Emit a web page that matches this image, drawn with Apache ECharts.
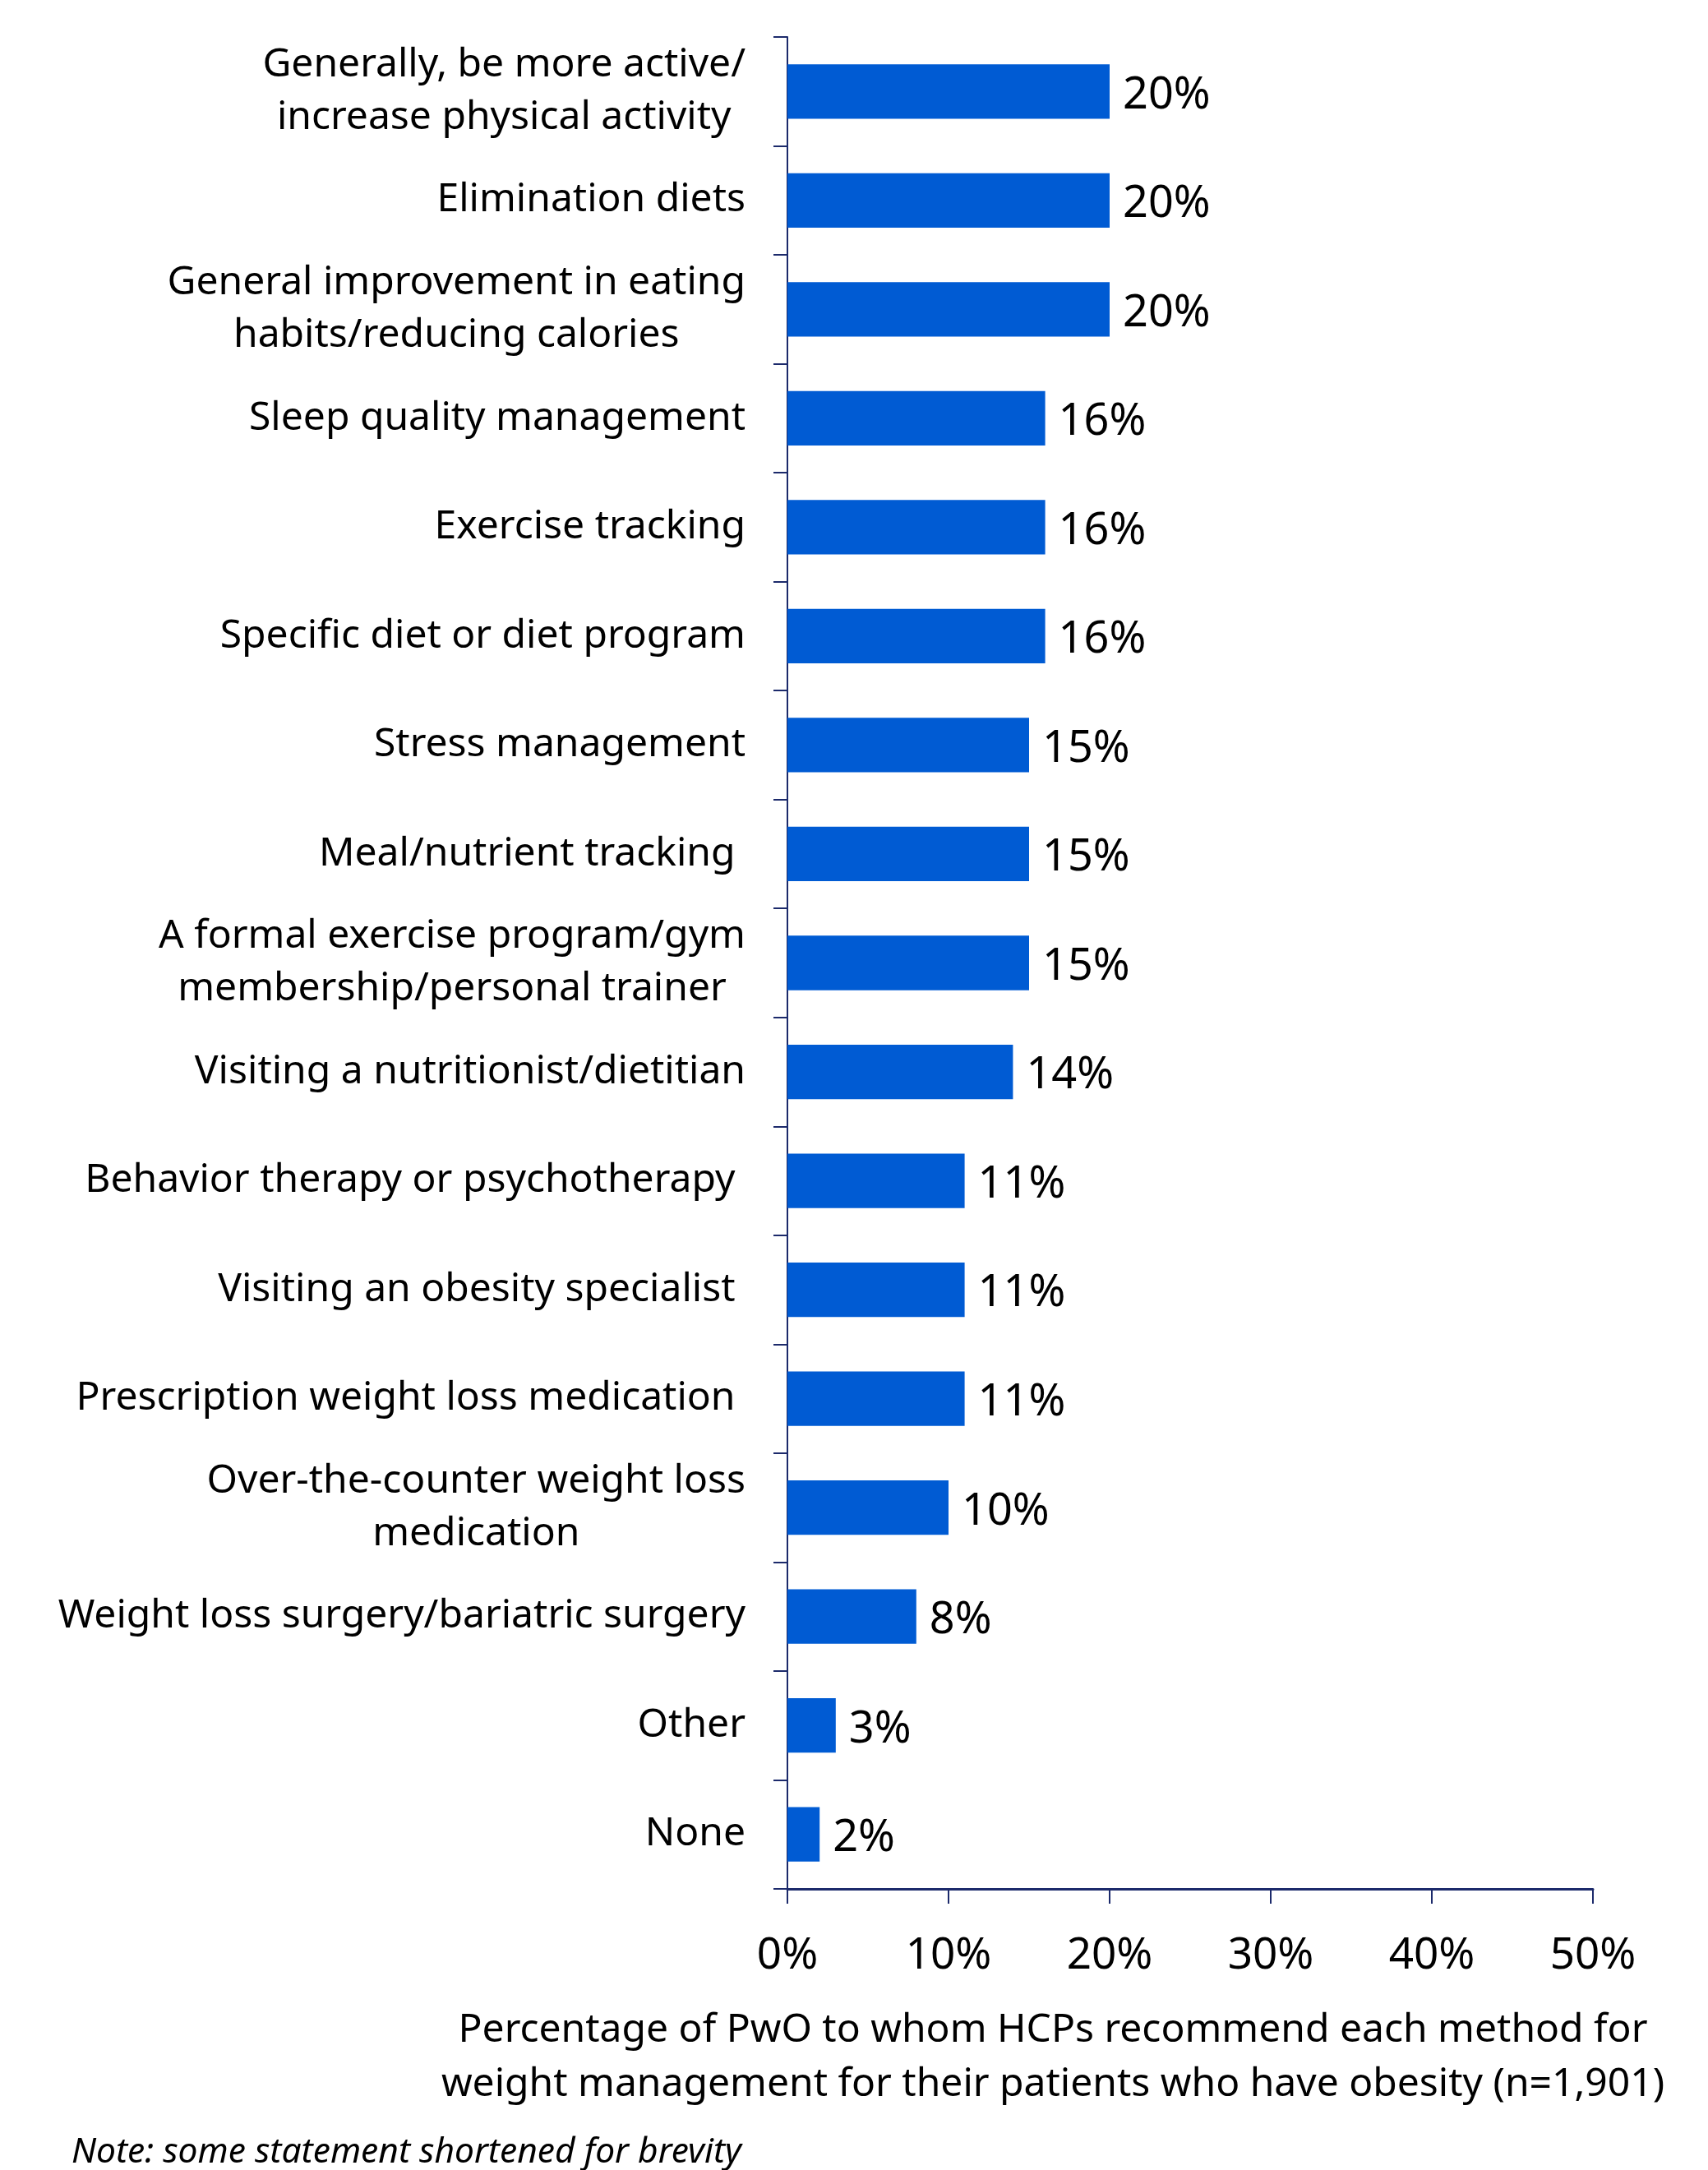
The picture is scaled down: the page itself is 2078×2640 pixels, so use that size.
<!DOCTYPE html>
<html>
<head>
<meta charset="utf-8">
<script src="https://cdn.jsdelivr.net/npm/echarts@6/dist/echarts.min.js"></script>
<style>
html,body{margin:0;padding:0;background:#fff;}
#main{width:2078px;height:2640px;}
</style>
</head>
<body>
<div id="main"></div>
<script>
const categories = [
  "Generally, be more active/\nincrease physical activity",
  "Elimination diets",
  "General improvement in eating\nhabits/reducing calories",
  "Sleep quality management",
  "Exercise tracking",
  "Specific diet or diet program",
  "Stress management",
  "Meal/nutrient tracking ",
  "A formal exercise program/gym\nmembership/personal trainer",
  "Visiting a nutritionist/dietitian",
  "Behavior therapy or psychotherapy ",
  "Visiting an obesity specialist ",
  "Prescription weight loss medication ",
  "Over-the-counter weight loss\nmedication",
  "Weight loss surgery/bariatric surgery",
  "Other",
  "None"
];
const values = [20, 20, 20, 16, 16, 16, 15, 15, 15, 14, 11, 11, 11, 10, 8, 3, 2];
const xTicks = [0, 10, 20, 30, 40, 50];
const axisTitle = "Percentage of PwO to whom HCPs recommend each method for\nweight management for their patients who have obesity (n=1,901)";
const noteText = "Note: some statement shortened for brevity";

const FONT = "Noto Sans";
const NAVY = "#1c2a6b";
const BAR = "#005bd3";

const chart = echarts.init(document.getElementById('main'), null, {renderer: 'canvas'});
chart.setOption({
  backgroundColor: '#ffffff',
  animation: false,
  title: [
    {
      text: axisTitle,
      left: 1276, top: 2432, textAlign: 'center',
      textStyle: {fontFamily: FONT, fontSize: 48, fontWeight: 'normal', color: '#000', lineHeight: 66, align: 'center'}
    },
    {
      text: noteText,
      left: 82, top: 2592,
      textStyle: {fontFamily: FONT, fontSize: 42.5, fontWeight: 'normal', fontStyle: 'italic', color: '#000'}
    }
  ],
  grid: {left: 958, right: 140, top: 45, bottom: 342, containLabel: false},
  xAxis: {
    type: 'value',
    min: xTicks[0], max: xTicks[xTicks.length - 1], interval: 10,
    axisLine: {show: true, lineStyle: {color: NAVY, width: 3}},
    axisTick: {show: true, length: 18, lineStyle: {color: NAVY, width: 2}},
    splitLine: {show: false},
    axisLabel: {
      margin: 55,
      fontFamily: FONT, fontSize: 53, color: '#000',
      formatter: v => v + '%'
    }
  },
  yAxis: {
    type: 'category',
    inverse: true,
    data: categories,
    axisLine: {show: true, lineStyle: {color: NAVY, width: 2}},
    axisTick: {show: true, length: 17, alignWithLabel: false, lineStyle: {color: NAVY, width: 2}},
    axisLabel: {
      margin: 51,
      fontFamily: FONT, fontSize: 48, color: '#000', lineHeight: 64,
      formatter: v => v.split('\n').map(l => '{c|' + l + '}').join('\n'),
      rich: {c: {align: 'center', fontFamily: FONT, fontSize: 48, color: '#000', lineHeight: 64}}
    }
  },
  series: [{
    type: 'bar',
    data: values,
    barWidth: '50%',
    itemStyle: {color: BAR},
    label: {
      show: true, position: 'right', distance: 16, offset: [0, 5],
      fontFamily: FONT, fontSize: 54, color: '#000',
      formatter: p => p.value + '%'
    }
  }]
});
</script>
</body>
</html>
